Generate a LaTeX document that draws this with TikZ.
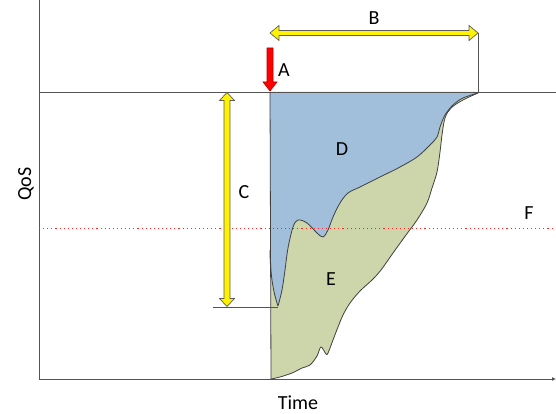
\documentclass[tikz,border=0pt]{standalone}
\usepackage{fontspec}
\setmainfont{Carlito}
\usetikzlibrary{arrows.meta}
\definecolor{bluefill}{RGB}{161,190,218}
\definecolor{greenfill}{RGB}{205,213,171}
\definecolor{edgegray}{RGB}{64,64,64}
\begin{document}
\begin{tikzpicture}[x=1pt,y=-1pt,
  lbl/.style={font=\fontsize{20}{24}\selectfont, inner sep=0pt},
  outline/.style={draw=edgegray, line width=0.8pt, line join=round},
  thinline/.style={draw=edgegray!90, line width=0.8pt},
  yarrow/.style={fill=yellow, draw=edgegray!85, line width=0.7pt, line join=miter},
  rarrow/.style={fill=red, draw=red!70!black, line width=0.6pt, line join=miter}]
\useasboundingbox (0,0) rectangle (556,414);
% axes
\coordinate (ytop) at (39,0);
\coordinate (orig) at (39,379);
\coordinate (xend) at (556,379);
\draw[thinline] (ytop) -- (orig);
\draw[thinline, -{Latex[length=4pt,width=4pt]}] (orig) -- (xend);
% top reference line
\coordinate (tl) at (39,92);
\coordinate (tr) at (556,92);
% regions
\fill[greenfill] (271,379) -- (270,92) -- (478,92) -- plot[smooth,tension=0.55] coordinates {(478,93) (463,100) (451,108) (445,118) (442,135) (440,152) (437,172) (432,188) (427,203) (417,220) (406,235) (393,253) (381,270) (372,280) (360,291) (350,303) (343,315) (338,327) (333,340) (328,353) (326,354) (321,347) (317,356) (310,365) (302,368) (292,373) (280,377) (271,379)} -- cycle;
\fill[bluefill] (270,92) -- (478,92) -- plot[smooth,tension=0.55] coordinates {(478,93) (463,98) (453,105) (445,115) (440,127) (437,137) (430,145) (417,157) (400,167) (380,177) (360,187) (348,193) (340,203) (333,217) (328,230) (323,237) (317,233) (307,223) (298,220) (293,227) (288,248) (285,270) (282,290) (278,306)} .. controls (273,292) and (270,272) .. (270,250) -- cycle;
\draw[outline] plot[smooth,tension=0.55] coordinates {(478,93) (463,98) (453,105) (445,115) (440,127) (437,137) (430,145) (417,157) (400,167) (380,177) (360,187) (348,193) (340,203) (333,217) (328,230) (323,237) (317,233) (307,223) (298,220) (293,227) (288,248) (285,270) (282,290) (278,306)} .. controls (273,292) and (270,272) .. (270,250);
\draw[outline] plot[smooth,tension=0.55] coordinates {(478,93) (463,100) (451,108) (445,118) (442,135) (440,152) (437,172) (432,188) (427,203) (417,220) (406,235) (393,253) (381,270) (372,280) (360,291) (350,303) (343,315) (338,327) (333,340) (328,353) (326,354) (321,347) (317,356) (310,365) (302,368) (292,373) (280,377) (271,379)};
\coordinate (lt) at (270,92);
\coordinate (lb) at (271,379);
\draw[outline] (lt) -- (lb);
\draw[thinline] (tl) -- (tr);
% threshold F
\coordinate (fl) at (39,228);
\coordinate (fr) at (556,228);
\draw[red!85, line width=0.7pt, dash pattern=on 1.1pt off 3pt] (fl) -- (fr);
% helper lines
\coordinate (bt) at (478,33);
\coordinate (bb) at (478,92);
\draw[thinline] (bt) -- (bb);
\coordinate (cl) at (213,307);
\coordinate (cr) at (278,307);
\draw[thinline] (cl) -- (cr);
% B arrow
\filldraw[yarrow] (270,33) -- (279,25.5) -- (279,30.5) -- (469,30.5) -- (469,25.5) -- (478,33) -- (469,40.5) -- (469,35.5) -- (279,35.5) -- (279,40.5) -- cycle;
% C arrow
\filldraw[yarrow] (227,92.5) -- (234.5,100.5) -- (230,100.5) -- (230,298.5) -- (234.5,298.5) -- (227,306.5) -- (219.5,298.5) -- (224,298.5) -- (224,100.5) -- (219.5,100.5) -- cycle;
% A arrow
\filldraw[rarrow] (267,48) -- (273,48) -- (273,82) -- (277,82) -- (270,91) -- (263,82) -- (267,82) -- cycle;
% labels
\node[lbl] (A) at (284,70) {A};
\node[lbl] (B) at (374,18) {B};
\node[lbl] (C) at (244,192) {C};
\node[lbl] (D) at (342,149) {D};
\node[lbl] (E) at (331,279) {E};
\node[lbl] (F) at (529,213) {F};
\node[lbl, rotate=90] (qos) at (26,184) {QoS};
\node[lbl] (time) at (298,403) {Time};
\end{tikzpicture}
\end{document}
